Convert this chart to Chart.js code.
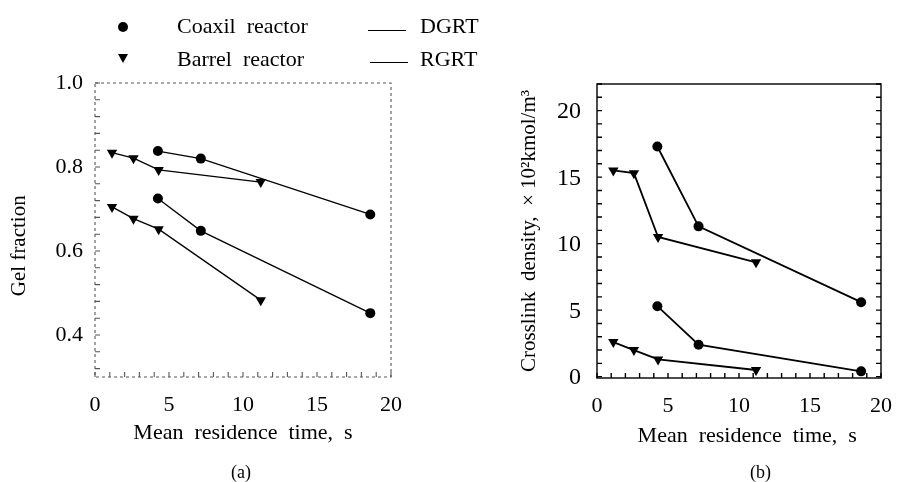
<!DOCTYPE html>
<html>
<head>
<meta charset="utf-8">
<script src="https://cdn.jsdelivr.net/npm/chart.js@4"></script>
<style>
  body { margin: 0; background: #fff; width: 907px; height: 482px; position: relative; overflow: hidden; font-family: "Liberation Serif", serif; color: #000; }
  canvas { position: absolute; top: 0; }
  #chartA { left: 0; }
  #chartB { left: 460px; }
  .lbl { position: absolute; white-space: pre; font-size: 22px; line-height: 24px; }
  .cap { position: absolute; font-size: 18px; line-height: 20px; }
  .dot { position: absolute; width: 10px; height: 10px; border-radius: 50%; background: #000; }
  .tri { position: absolute; width: 0; height: 0; border-left: 5px solid transparent; border-right: 5px solid transparent; border-top: 9px solid #000; }
  .dash { position: absolute; height: 0; border-top: 1.3px solid #000; width: 38px; }
</style>
</head>
<body>
<canvas id="chartA" width="460" height="482"></canvas>
<canvas id="chartB" width="447" height="482"></canvas>

<!-- legend -->
<div class="dot" style="left:118px; top:22px;"></div>
<div class="lbl" style="left:177px; top:14px;">Coaxil  reactor</div>
<div class="tri" style="left:118px; top:54px;"></div>
<div class="lbl" style="left:177px; top:47px;">Barrel  reactor</div>
<div class="dash" style="left:368px; top:30px;"></div>
<div class="lbl" style="left:420px; top:14px;">DGRT</div>
<div class="dash" style="left:370px; top:62px;"></div>
<div class="lbl" style="left:420px; top:47px;">RGRT</div>

<div class="cap" style="left:231px; top:462px;">(a)</div>
<div class="cap" style="left:750px; top:462px;">(b)</div>

<script>
// residence times, s
var barrelTime = [1.15, 2.6, 4.3, 11.2];
var coaxilTime = [4.25, 7.15, 18.6];

// gel fraction
var gelCoaxilDGRT = [0.838, 0.820, 0.687];
var gelBarrelDGRT = [0.834, 0.821, 0.793, 0.764];
var gelCoaxilRGRT = [0.725, 0.648, 0.452];
var gelBarrelRGRT = [0.705, 0.677, 0.652, 0.483];

// crosslink density, x10^2 kmol/m3
var xlCoaxilDGRT = [17.4, 11.4, 5.7];
var xlBarrelDGRT = [15.6, 15.4, 10.6, 8.7];
var xlCoaxilRGRT = [5.4, 2.5, 0.5];
var xlBarrelRGRT = [2.7, 2.1, 1.4, 0.6];

var timeTicks = [0, 5, 10, 15, 20];
var gelTicks = [0.4, 0.6, 0.8, 1.0];
var xlTicks = [0, 5, 10, 15, 20];

Chart.defaults.font.family = '"Liberation Serif", "Times New Roman", serif';
Chart.defaults.color = '#000';

function pts(xs, ys) {
    return xs.map(function (v, i) { return {x: v, y: ys[i]}; });
}

function series(label, xs, ys, marker, lw) {
    var tri = marker === 'triangle';
    return {
        label: label,
        data: pts(xs, ys),
        borderColor: '#000',
        backgroundColor: '#000',
        borderWidth: lw,
        pointStyle: marker,
        rotation: tri ? 180 : 0,
        pointRadius: tri ? 6 : 5,
        pointBorderWidth: 0,
        showLine: true,
        tension: 0
    };
}

// box around the plot area with small inward tick marks
var frameTicks = {
    id: 'frameTicks',
    afterDraw: function (chart, args, o) {
        var ctx = chart.ctx, a = chart.chartArea;
        var x = chart.scales.x, y = chart.scales.y;
        ctx.save();
        ctx.strokeStyle = o.color;
        ctx.lineWidth = o.width;
        ctx.setLineDash(o.dash);
        ctx.strokeRect(a.left, a.top, a.right - a.left, a.bottom - a.top);
        ctx.setLineDash([]);
        ctx.beginPath();
        var n, v, p;
        for (n = 0; ; n++) {
            v = x.min + n * o.xStep;
            if (v > x.max + 1e-9) break;
            p = x.getPixelForValue(v);
            ctx.moveTo(p, a.bottom); ctx.lineTo(p, a.bottom - o.len);
        }
        for (n = 0; ; n++) {
            v = y.max - n * o.yStep;
            if (v < y.min - 1e-9) break;
            p = y.getPixelForValue(v);
            ctx.moveTo(a.left, p); ctx.lineTo(a.left + o.len, p);
            if (o.right) { ctx.moveTo(a.right, p); ctx.lineTo(a.right - o.len, p); }
        }
        ctx.stroke();
        ctx.restore();
    }
};

function makeChart(id, datasets, cfg) {
    return new Chart(document.getElementById(id), {
        type: 'scatter',
        data: {datasets: datasets},
        plugins: [frameTicks],
        options: {
            responsive: false,
            animation: false,
            layout: {padding: {top: cfg.top, right: cfg.right, left: 0, bottom: 0}},
            plugins: {
                legend: {display: false},
                tooltip: {enabled: false},
                frameTicks: cfg.frame
            },
            scales: {
                x: {
                    type: 'linear', min: 0, max: 20,
                    afterBuildTicks: function (s) { s.ticks = timeTicks.map(function (v) { return {value: v}; }); },
                    afterFit: function (s) { s.height = cfg.xHeight; },
                    grid: {display: false, drawTicks: false},
                    border: {display: false},
                    ticks: {font: {size: 22}, padding: 15, maxRotation: 0, autoSkip: false},
                    title: {display: true, text: cfg.xTitle, font: {size: 22}, padding: {top: 0, bottom: cfg.xTitlePad}}
                },
                y: {
                    type: 'linear', min: cfg.yMin, max: cfg.yMax,
                    afterBuildTicks: function (s) { s.ticks = cfg.yTicks.map(function (v) { return {value: v}; }); },
                    afterFit: function (s) { s.width = cfg.yWidth; },
                    grid: {display: false, drawTicks: false},
                    border: {display: false},
                    ticks: {font: {size: cfg.yTickSize}, padding: cfg.yTickPad, autoSkip: false,
                        callback: function (v) { return cfg.fmt(v); }},
                    title: {display: true, text: cfg.yTitle, font: {size: cfg.yTitleSize}, padding: {top: cfg.yTitlePad, bottom: 0}}
                }
            }
        }
    });
}

// (a) gel fraction
makeChart('chartA', [
    series('Coaxil DGRT', coaxilTime, gelCoaxilDGRT, 'circle', 1.3),
    series('Barrel DGRT', barrelTime, gelBarrelDGRT, 'triangle', 1.3),
    series('Coaxil RGRT', coaxilTime, gelCoaxilRGRT, 'circle', 1.3),
    series('Barrel RGRT', barrelTime, gelBarrelRGRT, 'triangle', 1.3)
], {
    top: 83, right: 69, xHeight: 105, xTitlePad: 36,
    xTitle: 'Mean  residence  time,  s',
    yMin: 0.3, yMax: 1.0, yTicks: gelTicks, yWidth: 95,
    yTickSize: 22, yTickPad: 12,
    fmt: function (v) { return v.toFixed(1); },
    yTitle: 'Gel fraction      ', yTitleSize: 21, yTitlePad: 7,
    frame: {color: '#555', width: 1.1, dash: [3, 3], len: 5, xStep: 1, yStep: 0.04, right: false}
});

// (b) crosslink density
makeChart('chartB', [
    series('Coaxil DGRT', coaxilTime, xlCoaxilDGRT, 'circle', 1.8),
    series('Barrel DGRT', barrelTime, xlBarrelDGRT, 'triangle', 1.8),
    series('Coaxil RGRT', coaxilTime, xlCoaxilRGRT, 'circle', 1.8),
    series('Barrel RGRT', barrelTime, xlBarrelRGRT, 'triangle', 1.8)
], {
    top: 84, right: 14, xHeight: 104, xTitlePad: 33,
    xTitle: '   Mean  residence  time,  s',
    yMin: 0, yMax: 22.1, yTicks: xlTicks, yWidth: 137,
    yTickSize: 24, yTickPad: 16,
    fmt: function (v) { return String(v); },
    yTitle: 'Crosslink  density,  \u00d7 10\u00b2kmol/m\u00b3', yTitleSize: 21, yTitlePad: 57,
    frame: {color: '#000', width: 1.4, dash: [], len: 5, xStep: 1, yStep: 1, right: true}
});
</script>
</body>
</html>
